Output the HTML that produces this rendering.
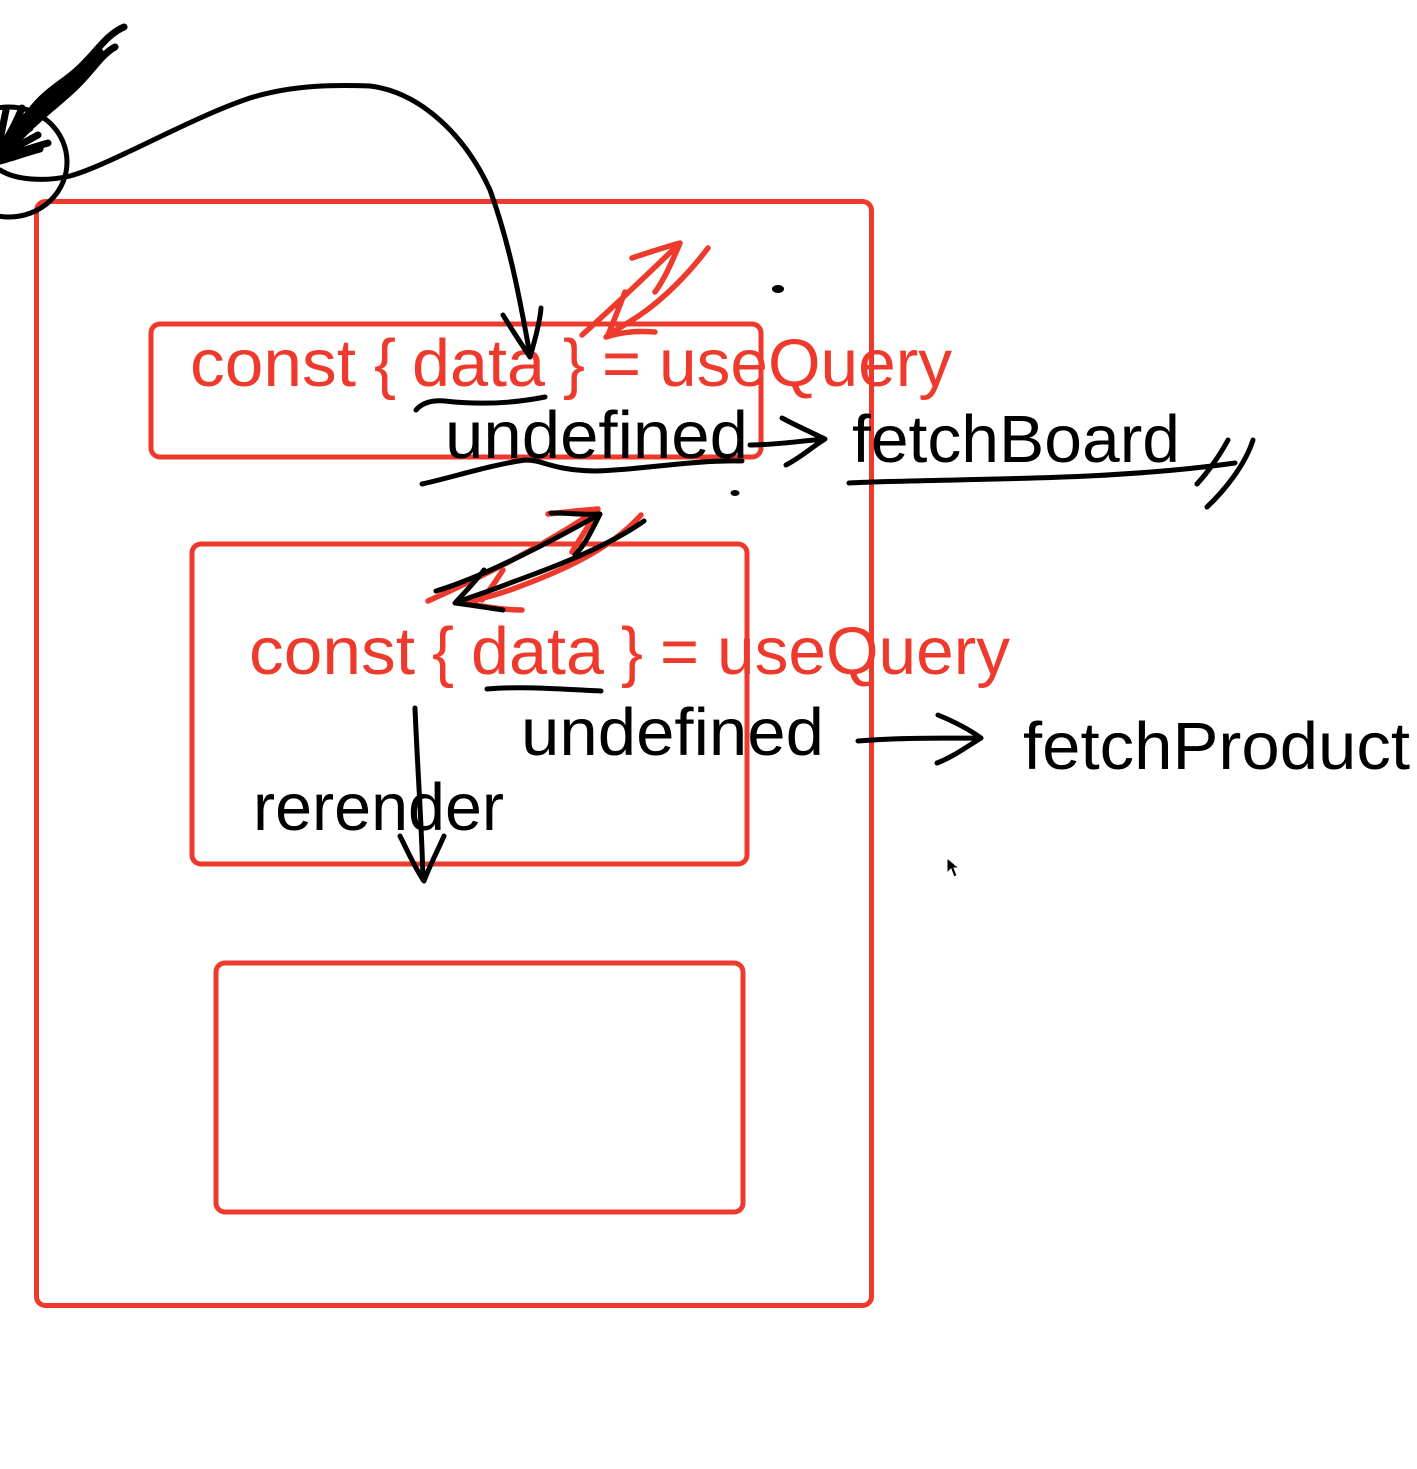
<!DOCTYPE html>
<html><head><meta charset="utf-8"><style>
html,body{margin:0;padding:0;background:#fff;width:1417px;height:1469px;overflow:hidden}
svg{display:block}
text{font-family:"Liberation Sans",sans-serif;font-size:67px}
</style></head><body>
<svg width="1417" height="1469" viewBox="0 0 1417 1469" xmlns="http://www.w3.org/2000/svg">
<g fill="none" stroke="#ee3a2c" stroke-width="5">
<rect x="36.500" y="201.500" width="835" height="1104" rx="9"/>
<rect x="151" y="324" width="610" height="133" rx="9"/>
<rect x="192" y="544" width="555" height="320" rx="9"/>
<rect x="216" y="963" width="527" height="249" rx="9"/>
</g>
<g fill="#ee3a2c">
<text x="190" y="386" textLength="166" lengthAdjust="spacingAndGlyphs">const</text>
<text x="374" y="386" textLength="22" lengthAdjust="spacingAndGlyphs">{</text>
<text x="412" y="386" textLength="133" lengthAdjust="spacingAndGlyphs">data</text>
<text x="563" y="386" textLength="22" lengthAdjust="spacingAndGlyphs">}</text>
<text x="602" y="386" textLength="39" lengthAdjust="spacingAndGlyphs">=</text>
<text x="659" y="386" textLength="293" lengthAdjust="spacingAndGlyphs">useQuery</text>
<text x="249" y="674" textLength="166" lengthAdjust="spacingAndGlyphs">const</text>
<text x="432" y="674" textLength="22" lengthAdjust="spacingAndGlyphs">{</text>
<text x="471" y="674" textLength="133" lengthAdjust="spacingAndGlyphs">data</text>
<text x="621" y="674" textLength="22" lengthAdjust="spacingAndGlyphs">}</text>
<text x="660" y="674" textLength="39" lengthAdjust="spacingAndGlyphs">=</text>
<text x="717" y="674" textLength="293" lengthAdjust="spacingAndGlyphs">useQuery</text>
</g>
<g fill="none" stroke="#ee3a2c" stroke-width="5.500" stroke-linecap="round" stroke-linejoin="round">
<path d="M582 335 C610 310 650 272 680 243 M632 258 C650 252 665 247 680 243 C672 262 664 280 655 292 M708 248 C690 272 665 298 640 315 C625 325 612 332 606 337 C625 331 640 331 655 332 M625 292 C620 305 615 318 608 335"/>
<path d="M428 601 C480 578 545 545 598 509 M548 514 C565 512 585 510 598 509 C590 525 580 538 572 552 M641 515 C610 550 560 572 510 590 C490 597 475 600 465 603 C485 607 505 610 522 610 M503 570 C495 582 490 590 482 600"/>
</g>
<g fill="#000">
<text x="445" y="458" textLength="303" lengthAdjust="spacingAndGlyphs">undefined</text>
<text x="852" y="462" textLength="328" lengthAdjust="spacingAndGlyphs">fetchBoard</text>
<text x="521" y="755" textLength="303" lengthAdjust="spacingAndGlyphs">undefined</text>
<text x="1023" y="769" textLength="387" lengthAdjust="spacingAndGlyphs">fetchProduct</text>
<text x="253" y="830" textLength="251" lengthAdjust="spacingAndGlyphs">rerender</text>
</g>
<g fill="none" stroke="#000" stroke-width="5" stroke-linecap="round" stroke-linejoin="round">
<ellipse cx="9" cy="162" rx="58" ry="55"/>
<path d="M0 170 C15 180 45 182 70 176 C110 165 190 118 250 98 C295 84 340 85 370 86 C420 92 465 135 490 190 C510 245 520 300 530 355"/>
<path d="M503 315 C512 330 522 345 530 357 C535 340 540 322 541 308"/>
<path d="M416 410 C422 403 432 400 445 401 C480 405 515 403 545 397"/>
<path d="M487 689 C520 686 560 689 601 691"/>
<path d="M422 484 C450 478 490 465 525 460 C545 460 550 470 595 471 C640 470 690 460 742 461"/>
<path d="M750 445 C775 445 800 441 825 439 M782 418 C795 425 810 432 825 439 C812 447 800 458 786 465"/>
<path d="M849 483 C950 478 1100 482 1235 463"/>
<path d="M1197 484 C1208 472 1220 455 1228 440 M1207 507 C1225 490 1245 465 1253 440"/>
<path d="M436 591 C480 578 545 545 600 514 M551 513 C570 513 585 515 600 514 C592 530 585 545 575 555 M644 521 C610 545 560 565 510 583 C490 591 470 597 455 603 C470 605 490 608 503 610 M484 570 C475 582 465 592 455 603"/>
<path d="M415 708 C417 760 422 830 423 880 M400 836 C408 852 415 868 424 881 C430 865 437 852 444 836"/>
<path d="M858 741 C890 738 940 738 981 738 M938 715 C955 722 970 730 981 738 C968 746 953 757 937 763"/>
</g>
<g fill="none" stroke="#000" stroke-width="7" stroke-linecap="round">
<path d="M124 27 C105 35 95 55 75 72 C60 85 45 92 30 112 C15 128 5 145 0 158"/>
<path d="M115 47 C100 55 90 75 70 92 C50 110 30 125 15 143 L0 158"/>
<path d="M100 52 C85 70 60 85 42 105 C25 122 10 145 0 155"/>
<path d="M85 68 C70 85 50 95 35 112 M75 80 C60 95 45 105 30 120"/>
<path d="M48 143 C30 148 15 153 0 160 M38 135 C25 142 10 150 0 157 M30 128 C20 135 8 145 0 152 M22 108 C15 125 8 138 0 148 M6 110 L0 140 M40 149 C25 153 12 158 0 161"/>
</g>
<ellipse cx="778" cy="289" rx="6" ry="4" fill="#000"/>
<ellipse cx="735" cy="493" rx="4.500" ry="3" fill="#000"/>
<path d="M947 858 L947 873 L951 869 L954 877 L957 875.500 L954 868 L959 868 Z" fill="#000" stroke="#fff" stroke-width="1"/>
</svg>
</body></html>
